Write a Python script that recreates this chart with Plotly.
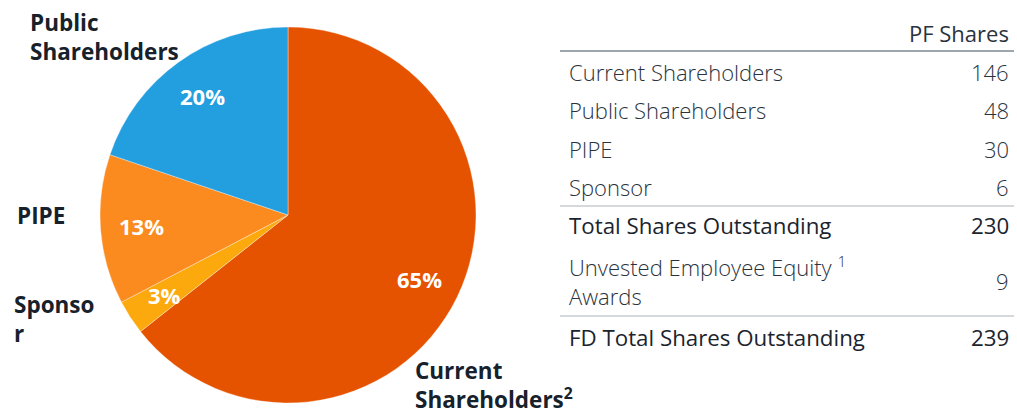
import math
import plotly.graph_objects as go

# ---- data ----
pie_labels = ["Current Shareholders", "Sponsor", "PIPE", "Public Shareholders"]
pie_pct = [65, 3, 13, 20]
pie_colors = ["#E65300", "#FCA90E", "#FB8A1F", "#239EDF"]

table_labels = ["Current Shareholders", "Public Shareholders", "PIPE", "Sponsor",
                "Total Shares Outstanding", "Unvested Employee Equity <sup>1</sup><br>Awards",
                "FD Total Shares Outstanding"]
table_values = [146, 48, 30, 6, 230, 9, 239]
table_bold = [False, False, False, False, True, False, True]
table_header = "PF Shares"

W, H = 1017, 410
def px(x): return x / W
def py(y): return 1 - y / H

# pie geometry (pixels)
CX, CY, R = 288, 215, 188
FONT = "Open Sans"

fig = go.Figure()
fig.add_trace(go.Pie(
    labels=pie_labels, values=pie_pct, sort=False, direction="clockwise", rotation=0,
    marker=dict(colors=pie_colors, line=dict(color="rgba(255,255,255,0.6)", width=0.6)),
    textinfo="none",
    domain=dict(x=[px(CX - R), px(CX + R)], y=[py(CY + R), py(CY - R)]),
    showlegend=False, hoverinfo="label+value",
))

# percentage labels placed along each slice's mid-angle
total = sum(pie_pct)
cum = 0
for v in pie_pct:
    mid = (cum + v / 2) / total * 2 * math.pi
    cum += v
    rr = 0.78 * R
    x = CX + rr * math.sin(mid)
    y = CY - rr * math.cos(mid)
    fig.add_annotation(text=f"{v}%", x=px(x), y=py(y), xref="paper", yref="paper",
                       xanchor="center", yanchor="middle", showarrow=False,
                       font=dict(family=FONT, size=22, color="white", weight="bold"))

DARK = "#17212C"
outer = [
    ("Public<br>Shareholders", 28, 37),
    ("PIPE", 15, 215),
    ("Sponso<br>r", 12, 319),
    ("Current<br>Shareholders<sup>2</sup>", 413, 385),
]
for txt, x, y in outer:
    fig.add_annotation(text=txt, x=px(x), y=py(y), xref="paper", yref="paper",
                       xanchor="left", yanchor="middle", align="left", showarrow=False,
                       font=dict(family=FONT, size=22.5, color=DARK, weight="bold"))

TXT = "#2A333D"
LX, RX = 567, 1011
fig.add_annotation(text=table_header, x=px(RX), y=py(33), xref="paper", yref="paper",
                   xanchor="right", yanchor="middle", showarrow=False,
                   font=dict(family=FONT, size=22, color=TXT, weight=400))
row_y = [72, 110, 149, 187, 225, 281, 337]
for lab, val, b, y in zip(table_labels, table_values, table_bold, row_y):
    f = dict(family=FONT, size=(22.3 if b else 22), color=("#1B242E" if b else TXT),
             weight=(500 if b else 300))
    fig.add_annotation(text=lab, x=px(LX), y=py(y), xref="paper", yref="paper",
                       xanchor="left", yanchor="middle", align="left", showarrow=False, font=f)
    fig.add_annotation(text=str(val), x=px(RX), y=py(y), xref="paper", yref="paper",
                       xanchor="right", yanchor="middle", showarrow=False, font=f)

for y, w, c in [(51, 2, "#9EA6AE"), (206, 1.5, "#C8CCD0"), (316, 1.5, "#C8CCD0")]:
    fig.add_shape(type="line", xref="paper", yref="paper", x0=px(560), x1=px(1014),
                  y0=py(y), y1=py(y), line=dict(color=c, width=w))

fig.update_layout(width=W, height=H, margin=dict(l=0, r=0, t=0, b=0),
                  paper_bgcolor="white", plot_bgcolor="white")
fig.write_html("out.html", config={"displayModeBar": False},
               post_script="document.body.style.margin='0px';document.body.style.overflow='hidden';")
